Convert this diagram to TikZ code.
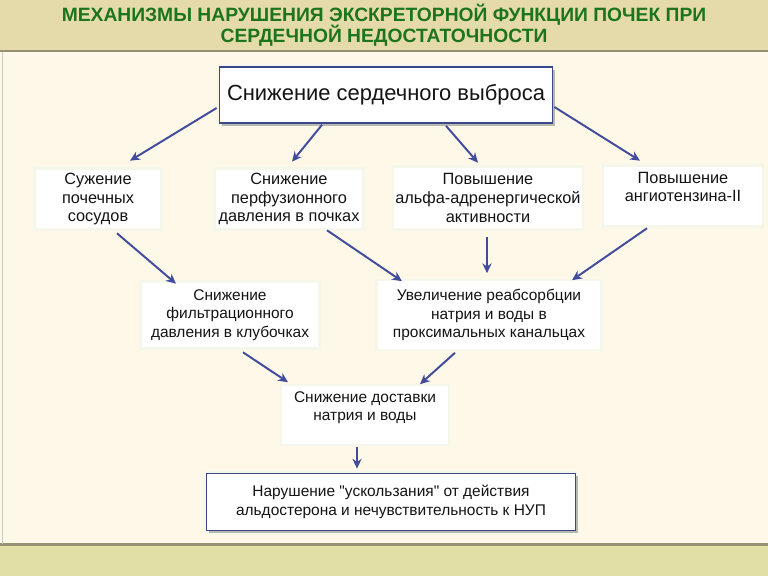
\documentclass[tikz,border=0pt]{standalone}
\usepackage{fontspec}
\setmainfont{Liberation Sans}
\newfontfamily\plainsans{Liberation Sans}
\usetikzlibrary{
    arrows.meta,
    calc,
    shadows
}

\definecolor{bandtop}{RGB}{229,218,170}
\definecolor{bandbot}{RGB}{225,222,166}
\definecolor{cream}{RGB}{253,248,231}
\definecolor{sepgray}{RGB}{150,145,115}
\definecolor{titlegreen}{RGB}{28,116,28}
\definecolor{frameblue}{RGB}{58,72,138}
\definecolor{arrowblue}{RGB}{66,76,158}
\definecolor{textgray}{RGB}{20,20,20}

\begin{document}
\begin{tikzpicture}[
    x=0.025cm,
    y=-0.025cm,
    >={Stealth[length=7pt,width=6.5pt]},
    title_style/.style={
        align=center,
        font=\fontsize{13.7}{15.2}\selectfont\bfseries,
        text=titlegreen
    },
    box_style/.style={
        fill=white,
        align=center,
        inner sep=0pt,
        text=textgray,
        font=\fontsize{11}{13}\selectfont,
        preaction={draw=cyan!15!white, line width=4pt, opacity=0.2}
    },
    upper_style/.style={
        box_style,
        font=\fontsize{11.6}{13.2}\selectfont
    },
    frame_style/.style={
        box_style,
        draw=frameblue,
        line width=1.2pt,
        drop shadow={shadow xshift=2pt, shadow yshift=-2pt, fill=black, opacity=0.25}
    },
    edge_style/.style={
        ->,
        draw=arrowblue,
        line width=1.4pt
    }
]
\useasboundingbox (0,0) rectangle (768,576);

% --- Background ---
\fill[bandtop] (0,0) rectangle (768,51);
\fill[cream] (0,51) rectangle (768,544);
\fill[bandbot] (0,544) rectangle (768,576);
\draw[sepgray, line width=1.1pt] (0,51) -- (768,51);
\draw[sepgray, line width=1.5pt] (0,544.5) -- (768,544.5);
\draw[black!20, line width=0.4pt] (2,52) -- (2,544);

% --- Title ---
\node[title_style] (title) at (384,25) {МЕХАНИЗМЫ НАРУШЕНИЯ ЭКСКРЕТОРНОЙ ФУНКЦИИ ПОЧЕК ПРИ\\СЕРДЕЧНОЙ НЕДОСТАТОЧНОСТИ};

% --- Nodes ---
\node[frame_style, minimum width=8.325cm, minimum height=1.4cm,
      font=\fontsize{15.6}{18}\selectfont] (top) at (386,95) {Снижение сердечного выброса};

\node[upper_style, minimum width=3.1cm, minimum height=1.45cm] (sug) at (98,199) {Сужение\\почечных\\сосудов};
\node[upper_style, minimum width=3.65cm, minimum height=1.45cm] (perf) at (289,199) {Снижение\\перфузионного\\давления в почках};
\node[upper_style, minimum width=4.675cm, minimum height=1.5cm] (alpha) at (488,198) {Повышение\\альфа-адренергической\\активности};
\node[upper_style, minimum width=3.925cm, minimum height=1.45cm] (angio) at (683,196) {Повышение\\ангиотензина-II\\\mbox{}};

\node[box_style, minimum width=4.4cm, minimum height=1.6cm] (filt) at (230,315) {Снижение\\фильтрационного\\давления в клубочках};
\node[box_style, minimum width=5.55cm, minimum height=1.675cm] (reab) at (489,315) {Увеличение реабсорбции\\натрия и воды в\\проксимальных канальцах};

\node[box_style, minimum width=4.125cm, minimum height=1.425cm] (deliv) at (365,415) {Снижение доставки\\натрия и воды\\\mbox{}};

\node[frame_style, minimum width=9.225cm, minimum height=1.425cm,
      font=\fontsize{11}{13.5}\selectfont] (final) at (391,502) {Нарушение {\plainsans"}ускользания{\plainsans"} от действия\\альдостерона и нечувствительность к НУП};

% --- Edges ---
\draw[edge_style] ($(top.west)+(-2,13)$) -- ($(sug.north)+(32,-9)$);
\draw[edge_style] ($(top.south)+(-64,1)$) -- ($(perf.north)+(3,-8)$);
\draw[edge_style] ($(top.south)+(60,2)$) -- ($(alpha.north)+(-10,-5)$);
\draw[edge_style] ($(top.east)+(1,12)$) -- ($(angio.north)+(-43,-6)$);

\draw[edge_style] ($(sug.south)+(19,5)$) -- ($(filt.north)+(-54,1)$);
\draw[edge_style] ($(perf.south)+(38,2)$) -- ($(reab.north)+(-87,0)$);
\draw[edge_style] ($(alpha.south)+(-1,9)$) -- ($(reab.north)+(-2,-8)$);
\draw[edge_style] ($(angio.south)+(-36,3)$) -- ($(reab.north)+(83,-1)$);

\draw[edge_style] ($(filt.south)+(13,5)$) -- ($(deliv.north)+(-77,-4)$);
\draw[edge_style] ($(reab.south)+(-34,4)$) -- ($(deliv.north)+(55,-2)$);

\draw[edge_style] ($(deliv.south)+(-8,3)$) -- ($(final.north)+(-34,-4)$);

\end{tikzpicture}
\end{document}
